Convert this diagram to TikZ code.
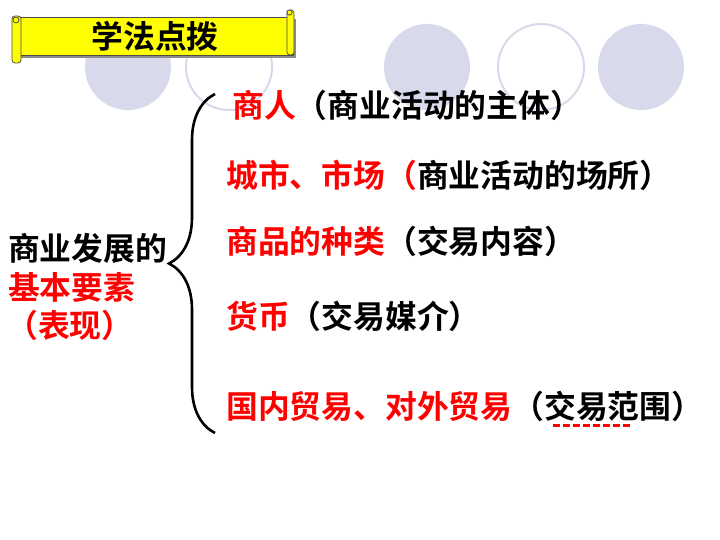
\documentclass[tikz,border=0pt]{standalone}
\usepackage{fontspec}
\newfontfamily\cjk{Noto Sans CJK SC Bold}
\usetikzlibrary{decorations.pathreplacing}
\definecolor{lav}{RGB}{217,217,236}
\definecolor{scrollyellow}{RGB}{255,255,0}

\begin{document}
\begin{tikzpicture}[
        x=1pt,y=-1pt,
        every node/.style={inner sep=0pt,font=\cjk\fontsize{31.8}{35}\selectfont},
        item/.style={anchor=west},
        keyword/.style={text=red},
        dot/.style={fill=lav},
        ring/.style={draw=lav,line width=2pt},
        roll/.style={fill=scrollyellow,draw=black!70,line width=0.8pt,rounded corners=3pt},
    ]
    \useasboundingbox (0,0) rectangle (720,540);
    \fill[white] (0,0) rectangle (720,540);
    % circles in the background
    \fill[dot] (128,67) circle (43);
    \draw[ring] (229,67) circle (43);
    \fill[dot] (427,67) circle (43);
    \draw[ring] (541,67) circle (43);
    \fill[dot] (641,67) circle (43);
    % scroll banner
    \fill[black!45] (17,19) rectangle (296,58);
    \draw[fill=scrollyellow,draw=black!70,line width=0.8pt] (16,17) rectangle (293,55);
    \draw[roll] (287,10) rectangle (294,55);
    \draw[fill=scrollyellow,draw=black!70,line width=0.8pt] (289.5,12.5) circle (2.6);
    \draw[roll] (12,16) rectangle (21,63);
    \draw[fill=scrollyellow,draw=black!70,line width=0.8pt] (16,20) circle (3);
    \node (title) at (155,36) {学法点拨};
    % left part
    \node[item] (topic) at (8,248) {商业发展的};
    \node[item,keyword] (factor) at (8,287) {基本要素};
    \node[item,keyword] (show) at (6,325) {（表现）};
    % right part
    \node[item] (trader) at (232,105) {{\color{red}商人}（商业活动的主体）};
    \node[item] (market) at (226,175) {{\color{red}城市、市场（}商业活动的场所）};
    \node[item] (goods) at (226,241) {{\color{red}商品的种类}（交易内容）};
    \node[item] (money) at (226,316) {{\color{red}货币}（交易媒介）};
    \node[item] (trade) at (226,406) {{\color{red}国内贸易、对外贸易}（交易范围）};
    \coordinate (bracebot) at (215,433);
    \coordinate (bracetop) at (215,94);
    \draw[line width=2.6pt,decorate,decoration={brace,amplitude=46pt,aspect=0.5}] (bracebot) -- (bracetop);
    \coordinate (ulstart) at (553,425);
    \coordinate (ulend) at (633,425);
    \draw[red,line width=3pt,dash pattern=on 7pt off 3pt] (ulstart) -- (ulend);
\end{tikzpicture}
\end{document}
